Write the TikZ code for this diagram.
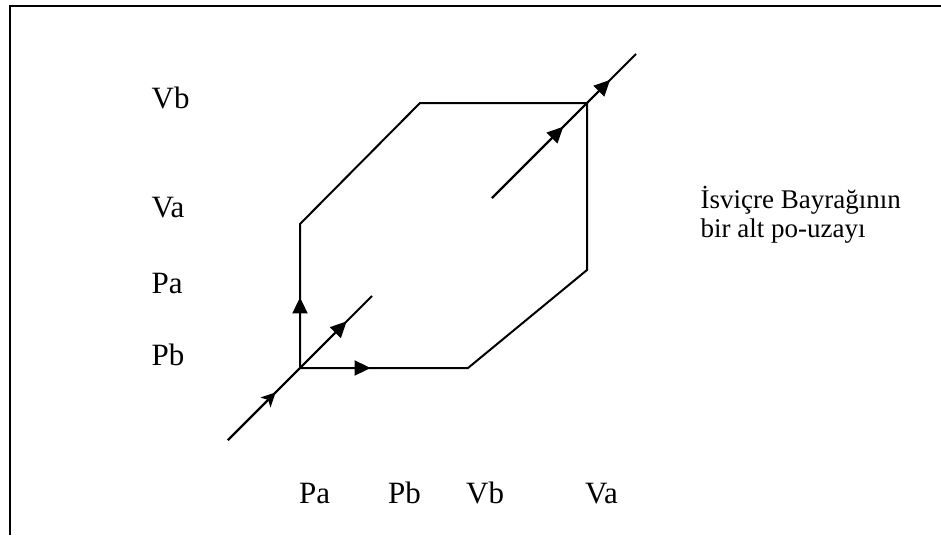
\documentclass[tikz,border=0pt]{standalone}
\usepackage{fontspec}
\setmainfont{Liberation Serif}
\usetikzlibrary{arrows.meta,calc}
\begin{document}
\begin{tikzpicture}[x=1pt,y=-1pt,
  frameline/.style={line width=2.3pt},
  edgeline/.style={line width=2pt},
  tri/.style={edgeline,-{Triangle[length=16pt,width=15pt]}},
  barb/.style={edgeline,-{Stealth[length=14pt,width=14pt,inset=3.5pt]}},
  lab/.style={font=\fontsize{31}{36}\selectfont,inner sep=0pt,anchor=base west},
  note/.style={font=\fontsize{27}{30}\selectfont,inner sep=0pt,anchor=base west}]
\useasboundingbox (0,0) rectangle (941,535);
% frame
\coordinate (TL) at (10,6);
\coordinate (TR) at (941,6);
\coordinate (BL) at (10,535);
\draw[frameline] (BL) -- (TL) -- (TR);
% hexagon
\coordinate (O) at (300,368);
\coordinate (A) at (300,224);
\coordinate (B) at (420,103);
\coordinate (C) at (587,103);
\coordinate (D) at (587,270);
\coordinate (E) at (468,368);
\draw[edgeline] (O) -- (A) -- (B) -- (C) -- (D) -- (E) -- cycle;
% diagonals
\coordinate (L1) at (228,440);
\coordinate (L2) at (372,296);
\coordinate (U1) at (492,198);
\coordinate (U2) at (636,54);
\draw[edgeline] (L1) -- (L2);
\draw[edgeline] (U1) -- (U2);
% arrows
\draw[tri] (O) -- ($(O)!0.49!(A)$);
\draw[tri] (O) -- ($(O)!0.42!(E)$);
\draw[barb] (L1) -- ($(L1)!0.33!(L2)$);
\draw[tri] (L1) -- ($(L1)!0.824!(L2)$);
\draw[tri] (U1) -- ($(U1)!0.495!(U2)$);
\draw[tri] (U1) -- ($(U1)!0.82!(U2)$);
% labels
\node[lab] (vbL) at (151.5,108) {Vb};
\node[lab] (vaL) at (151.5,217) {Va};
\node[lab] (paL) at (151.5,293) {Pa};
\node[lab] (pbL) at (151.5,365) {Pb};
\node[lab] (paB) at (299,503) {Pa};
\node[lab] (pbB) at (388,503) {Pb};
\node[lab] (vbB) at (466,503) {Vb};
\node[lab] (vaB) at (585,503) {Va};
\node[note] (n1) at (700.5,208) {İsviçre Bayrağının};
\node[note] (n2) at (700.5,237) {bir alt po-uzayı};
\end{tikzpicture}
\end{document}
